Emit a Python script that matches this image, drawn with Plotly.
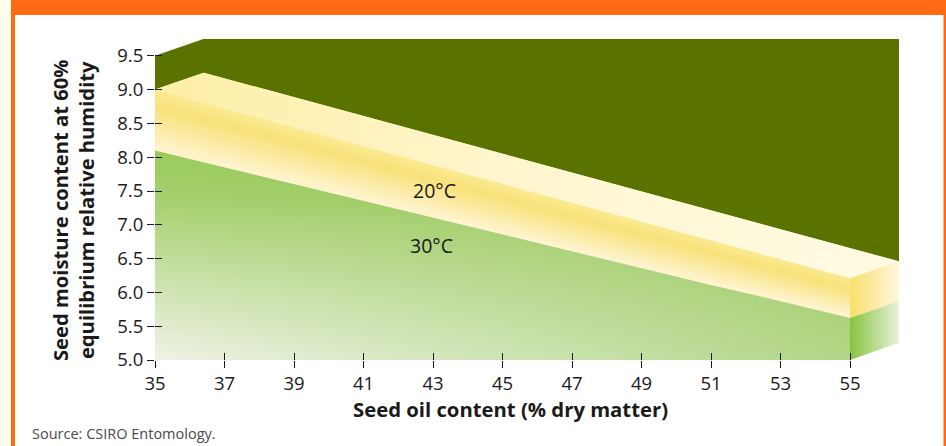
import plotly.graph_objects as go

# ---- data ----
oil_content = [35, 37, 39, 41, 43, 45, 47, 49, 51, 53, 55]
moisture_20C = [9.00, 8.72, 8.44, 8.16, 7.88, 7.60, 7.33, 7.05, 6.77, 6.49, 6.21]
moisture_30C = [8.10, 7.85, 7.60, 7.35, 7.10, 6.86, 6.61, 6.36, 6.11, 5.87, 5.62]
x_ticks = [35, 37, 39, 41, 43, 45, 47, 49, 51, 53, 55]
y_ticks = [5.0, 5.5, 6.0, 6.5, 7.0, 7.5, 8.0, 8.5, 9.0, 9.5]
y_base = 5.0

# ---- style / geometry ----
W, H = 946, 446
ML, MR, MT, MB = 155, 47, 39, 86
PW, PH = W - ML - MR, H - MT - MB
X_RANGE = [35, 35 + PW / 34.75]
Y_RANGE = [5.0, 5.0 + PH / 67.6]
DX, DY = 1.4, 0.25  # depth offset of the 3-D effect
FONT = "Open Sans"
INK = "#1a1a1a"


def px_x(p):
    return (p - ML) / PW


def px_y(p):
    return (H - MB - p) / PH


def hexmix(c1, c2, t):
    a = [int(c1[i:i + 2], 16) for i in (1, 3, 5)]
    b = [int(c2[i:i + 2], 16) for i in (1, 3, 5)]
    return "rgb(%d,%d,%d)" % tuple(round(a[k] + (b[k] - a[k]) * t) for k in range(3))


fig = go.Figure()


def poly(xs, ys, color=None, gradient=None, edge=False):
    kw = dict(x=xs, y=ys, mode="lines", fill="toself",
              hoverinfo="skip", showlegend=False)
    if gradient is not None:
        kw["fillgradient"] = gradient
        kw["fillcolor"] = "rgba(0,0,0,0)"
        kw["line"] = dict(width=0)
    else:
        kw["fillcolor"] = color
        kw["line"] = dict(width=1.2, color=color) if edge else dict(width=0)
    fig.add_trace(go.Scatter(**kw))


back_x = [x + DX for x in oil_content]
back_y20 = [y + DY for y in moisture_20C]

# dark green back wall
gx = [35, 35 + DX, X_RANGE[1], X_RANGE[1]] + back_x[::-1] + [35]
gy = [9.5, 9.5 + DY, Y_RANGE[1], back_y20[-1]] + back_y20[::-1] + [moisture_20C[0]]
poly(gx, gy, color="#5a7300")

# top face of the 20 C band
poly(oil_content + back_x[::-1], moisture_20C + back_y20[::-1],
     gradient=dict(type="horizontal",
                   colorscale=[[0, "#fdeea6"], [0.5, "#fff6cf"], [1, "#fffbe4"]]))

# front face of the 20 C band (strips between the two curves)
N = 12
stops = [(0.0, "#faea92"), (0.3, "#f8e27a"), (1.0, "#fff4d2")]


def band_color(t):
    for (t0, c0), (t1, c1) in zip(stops[:-1], stops[1:]):
        if t <= t1:
            return hexmix(c0, c1, (t - t0) / (t1 - t0))
    return stops[-1][1]


for i in range(N):
    t0, t1 = i / N, (i + 1) / N
    upper = [a + (b - a) * t0 for a, b in zip(moisture_20C, moisture_30C)]
    lower = [a + (b - a) * t1 for a, b in zip(moisture_20C, moisture_30C)]
    poly(oil_content + oil_content[::-1], upper + lower[::-1],
         color=band_color((t0 + t1) / 2), edge=(0 < i < N - 1))

# front face of the 30 C region
green_x = oil_content + [oil_content[-1], oil_content[0]]
green_y = moisture_30C + [y_base, y_base]
poly(green_x, green_y,
     gradient=dict(type="vertical",
                   colorscale=[[0, "#eef3e6"], [0.35, "#cfe3b0"], [0.75, "#a6d170"], [1, "#9aca5a"]]))
poly(green_x, green_y,
     gradient=dict(type="horizontal",
                   colorscale=[[0, "rgba(145,198,82,0)"], [1, "rgba(145,198,82,0.65)"]]))

# right-hand side faces
xe = oil_content[-1]
poly([xe, xe + DX, xe + DX, xe],
     [moisture_20C[-1], moisture_20C[-1] + DY, moisture_30C[-1] + DY, moisture_30C[-1]],
     gradient=dict(type="horizontal", colorscale=[[0, "#f8e06c"], [1, "#fff6da"]]))
poly([xe, xe + DX, xe + DX, xe],
     [moisture_30C[-1], moisture_30C[-1] + DY, y_base + DY, y_base],
     gradient=dict(type="horizontal", colorscale=[[0, "#86c440"], [1, "#e8f0da"]]))

# ---- frame ----
shapes = [
    dict(type="rect", xref="paper", yref="paper", layer="below",
         x0=px_x(11), x1=px_x(947), y0=px_y(460), y1=px_y(-2),
         fillcolor="#ff6a13", line=dict(width=0)),
    dict(type="rect", xref="paper", yref="paper", layer="below",
         x0=px_x(15), x1=px_x(943.5), y0=px_y(460), y1=px_y(15),
         fillcolor="#ffffff", line=dict(width=0)),
]

annotations = [
    dict(text="20°C", x=43.03, y=7.51, xref="x", yref="y", showarrow=False,
         xanchor="center", yanchor="middle",
         font=dict(size=19.5, color=INK, family=FONT)),
    dict(text="30°C", x=42.97, y=6.70, xref="x", yref="y", showarrow=False,
         xanchor="center", yanchor="middle",
         font=dict(size=19.5, color=INK, family=FONT)),
    dict(text="<b>Seed oil content (% dry matter)</b>", x=px_x(510), y=px_y(409),
         xref="paper", yref="paper", showarrow=False, xanchor="center", yanchor="middle",
         font=dict(size=20.3, color=INK, family=FONT)),
    dict(text="<b>Seed moisture content at 60%<br>equilibrium relative humidity</b>",
         x=px_x(73), y=px_y(211), xref="paper", yref="paper", showarrow=False,
         xanchor="center", yanchor="middle",
         textangle=-90, font=dict(size=20.2, color=INK, family=FONT)),
    dict(text="Source: CSIRO Entomology.", x=px_x(30), y=px_y(433),
         xref="paper", yref="paper", xanchor="left", yanchor="middle", showarrow=False,
         font=dict(size=14.5, color="#4a4a4a", family=FONT)),
]

axis_common = dict(showgrid=False, zeroline=False, showline=False, automargin=False,
                   tickcolor=INK, tickwidth=1.3, ticklen=7)
tickfont = dict(size=18.5, color=INK, family=FONT)

fig.update_layout(
    width=W, height=H,
    margin=dict(l=ML, r=MR, t=MT, b=MB),
    paper_bgcolor="#fffdeb",
    plot_bgcolor="rgba(0,0,0,0)",
    shapes=shapes,
    annotations=annotations,
    # primary axes: inside half of each tick (drawn above the fills)
    xaxis=dict(range=X_RANGE, tickvals=x_ticks, ticks="inside", showticklabels=False,
               **axis_common),
    yaxis=dict(range=Y_RANGE, tickvals=y_ticks, ticks="inside", showticklabels=False,
               **axis_common),
    # overlay axes: outside half of each tick plus the labels
    xaxis2=dict(range=X_RANGE, tickvals=x_ticks, ticks="outside", overlaying="x",
                side="bottom", tickfont=tickfont, **axis_common),
    yaxis2=dict(range=Y_RANGE, tickvals=y_ticks, ticktext=["%.1f" % v for v in y_ticks],
                ticks="outside", overlaying="y", side="left", tickfont=tickfont,
                **axis_common),
)

# invisible trace to activate the overlay axes
fig.add_trace(go.Scatter(x=[oil_content[0]], y=[moisture_20C[0]], xaxis="x2", yaxis="y2",
                         mode="markers", marker=dict(opacity=0), hoverinfo="skip",
                         showlegend=False))

fig.write_html("out.html", config={"displayModeBar": False},
               post_script="document.body.style.margin='0';document.body.style.overflow='hidden';")
